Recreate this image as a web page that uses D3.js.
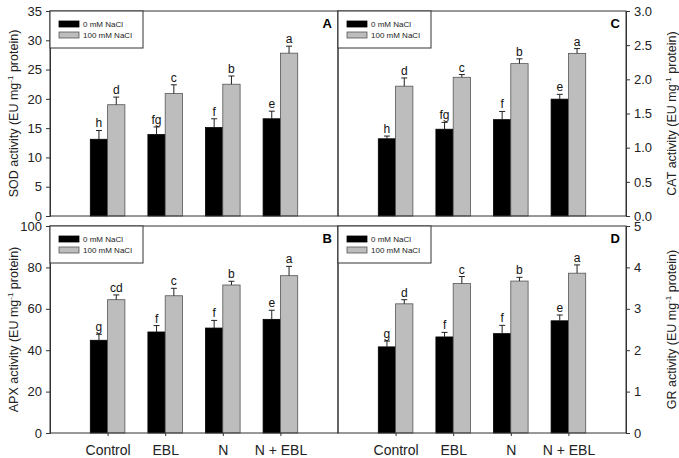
<!DOCTYPE html>
<html>
<head>
<meta charset="utf-8">
<script src="https://cdn.jsdelivr.net/npm/d3@7"></script>
<style>
  body { margin: 0; background: #fff; }
  svg { display: block; font-family: Arial, "Liberation Sans", sans-serif; }
</style>
</head>
<body>
<svg id="chart" width="679" height="458"></svg>
<script>
// DATA
var categories = ['Control', 'EBL', 'N', 'N + EBL'];
var seriesNames = ['0 mM NaCl', '100 mM NaCl'];

// A: SOD
var sod0 = [13.1, 13.9, 15.1, 16.6];
var sod0Err = [1.5, 1.3, 1.5, 1.3];
var sod100 = [19.0, 20.9, 22.5, 27.8];
var sod100Err = [1.3, 1.5, 1.4, 1.2];
var sodLetters0 = ['h', 'fg', 'f', 'e'];
var sodLetters100 = ['d', 'c', 'b', 'a'];

// B: APX
var apx0 = [44.8, 48.8, 50.7, 54.9];
var apx0Err = [2.9, 3.1, 3.7, 4.4];
var apx100 = [64.4, 66.3, 71.5, 76.0];
var apx100Err = [2.3, 3.6, 1.8, 4.5];
var apxLetters0 = ['g', 'f', 'f', 'e'];
var apxLetters100 = ['cd', 'c', 'b', 'a'];

// C: CAT
var cat0 = [1.13, 1.27, 1.41, 1.71];
var cat0Err = [0.04, 0.10, 0.12, 0.07];
var cat100 = [1.90, 2.03, 2.23, 2.38];
var cat100Err = [0.12, 0.04, 0.07, 0.07];
var catLetters0 = ['h', 'fg', 'f', 'e'];
var catLetters100 = ['d', 'c', 'b', 'a'];

// D: GR
var gr0 = [2.08, 2.32, 2.40, 2.71];
var gr0Err = [0.14, 0.11, 0.20, 0.14];
var gr100 = [3.12, 3.61, 3.67, 3.86];
var gr100Err = [0.10, 0.17, 0.09, 0.20];
var grLetters0 = ['g', 'f', 'f', 'e'];
var grLetters100 = ['d', 'c', 'b', 'a'];

// panel setup built from the arrays above
var panels = [
  { id: 'A', enzyme: 'SOD', side: 'left', x0: 50, x1: 338, y0: 11, y1: 216, max: 35, step: 5, fmt: 'd',
    values: [sod0, sod100], errs: [sod0Err, sod100Err], letters: [sodLetters0, sodLetters100], labels: false },
  { id: 'C', enzyme: 'CAT', side: 'right', x0: 338, x1: 626, y0: 11, y1: 216, max: 3, step: 0.5, fmt: '.1f',
    values: [cat0, cat100], errs: [cat0Err, cat100Err], letters: [catLetters0, catLetters100], labels: false },
  { id: 'B', enzyme: 'APX', side: 'left', x0: 50, x1: 338, y0: 226, y1: 433, max: 100, step: 20, fmt: 'd',
    values: [apx0, apx100], errs: [apx0Err, apx100Err], letters: [apxLetters0, apxLetters100], labels: true },
  { id: 'D', enzyme: 'GR', side: 'right', x0: 338, x1: 626, y0: 226, y1: 433, max: 5, step: 1, fmt: 'd',
    values: [gr0, gr100], errs: [gr0Err, gr100Err], letters: [grLetters0, grLetters100], labels: true }
];

var barFills = ['#000000', '#bdbdbd'];
var barStrokes = ['#000000', '#555555'];
var barWidth = 17.3;
var lineColor = '#333';

var svg = d3.select('#chart');

panels.forEach(function (p) {
  var g = svg.append('g').attr('class', 'panel panel-' + p.id);

  var x = d3.scalePoint()
    .domain(categories)
    .range([p.x0, p.x1])
    .padding(1);

  var y = d3.scaleLinear()
    .domain([0, p.max])
    .range([p.y1, p.y0]);

  var ticks = d3.range(0, p.max + p.step / 2, p.step);

  /**
   * Bars, error bars and letters
   */
  p.values.forEach(function (vals, s) {
    var offset = s === 0 ? -barWidth : 0;
    var bars = g.append('g').attr('class', 'series-' + s)
      .selectAll('g.bar')
      .data(vals.map(function (v, i) {
        return { cat: categories[i], value: v, err: p.errs[s][i], letter: p.letters[s][i] };
      }))
      .enter()
      .append('g')
      .attr('class', 'bar');

    bars.append('rect')
      .attr('x', function (d) { return x(d.cat) + offset; })
      .attr('y', function (d) { return y(d.value); })
      .attr('width', barWidth)
      .attr('height', function (d) { return y(0) - y(d.value); })
      .attr('fill', barFills[s])
      .attr('stroke', barStrokes[s])
      .attr('stroke-width', 0.8);

    // error bar: upward only, small cap
    bars.append('line')
      .attr('x1', function (d) { return x(d.cat) + offset + barWidth / 2; })
      .attr('x2', function (d) { return x(d.cat) + offset + barWidth / 2; })
      .attr('y1', function (d) { return y(d.value); })
      .attr('y2', function (d) { return y(d.value + d.err); })
      .attr('stroke', '#222')
      .attr('stroke-width', 1);
    bars.append('line')
      .attr('x1', function (d) { return x(d.cat) + offset + barWidth / 2 - 3; })
      .attr('x2', function (d) { return x(d.cat) + offset + barWidth / 2 + 3; })
      .attr('y1', function (d) { return y(d.value + d.err); })
      .attr('y2', function (d) { return y(d.value + d.err); })
      .attr('stroke', '#222')
      .attr('stroke-width', 1);

    bars.append('text')
      .attr('x', function (d) { return x(d.cat) + offset + barWidth / 2; })
      .attr('y', function (d) { return y(d.value + d.err) - 3; })
      .attr('text-anchor', 'middle')
      .style('font-size', '12px')
      .attr('fill', '#111')
      .text(function (d) { return d.letter; });
  });

  /**
   * Frame
   */
  g.append('rect')
    .attr('x', p.x0)
    .attr('y', p.y0)
    .attr('width', p.x1 - p.x0)
    .attr('height', p.y1 - p.y0)
    .attr('fill', 'none')
    .attr('stroke', lineColor)
    .attr('stroke-width', 1);

  /**
   * Y axis
   */
  var yAxis = (p.side === 'left' ? d3.axisLeft(y) : d3.axisRight(y))
    .tickValues(ticks)
    .tickFormat(d3.format(p.fmt))
    .tickSize(4)
    .tickPadding(4);

  var yAxisG = g.append('g')
    .attr('transform', 'translate(' + (p.side === 'left' ? p.x0 : p.x1) + ',0)')
    .call(yAxis);
  yAxisG.select('.domain').attr('stroke', lineColor);
  yAxisG.selectAll('.tick line').attr('stroke', lineColor);
  yAxisG.selectAll('.tick text')
    .attr('fill', '#222')
    .style('font-size', '13px')
    .style('font-family', 'Arial, "Liberation Sans", sans-serif');

  // axis title with superscript
  var titleX = p.side === 'left' ? 18 : 676;
  var title = g.append('text')
    .attr('transform', 'translate(' + titleX + ',' + ((p.y0 + p.y1) / 2) + ') rotate(-90)')
    .attr('text-anchor', 'middle')
    .attr('fill', '#222')
    .style('font-size', '12.5px');
  title.append('tspan').text(p.enzyme + ' activity (EU mg');
  title.append('tspan').attr('dy', -5).style('font-size', '8px').text('-1');
  title.append('tspan').attr('dy', 5).text(' protein)');

  /**
   * X axis (ticks only on bottom panels)
   */
  if (p.labels) {
    var xAxis = d3.axisBottom(x)
      .tickSize(3)
      .tickPadding(9);
    var xAxisG = g.append('g')
      .attr('transform', 'translate(0,' + p.y1 + ')')
      .call(xAxis);
    xAxisG.select('.domain').remove();
    xAxisG.selectAll('.tick line').attr('stroke', lineColor);
    xAxisG.selectAll('.tick text')
      .attr('fill', '#222')
      .style('font-size', '14px')
      .style('font-family', 'Arial, "Liberation Sans", sans-serif');
  }

  /**
   * Panel letter
   */
  g.append('text')
    .attr('x', p.x1 - 6)
    .attr('y', p.y0 + 17)
    .attr('text-anchor', 'end')
    .style('font-size', '13px')
    .style('font-weight', 'bold')
    .text(p.id);

  /**
   * Legend
   */
  var legend = g.append('g')
    .attr('transform', 'translate(' + p.x0 + ',' + p.y0 + ')');
  legend.append('rect')
    .attr('width', 93)
    .attr('height', 37)
    .attr('fill', '#fff')
    .attr('stroke', lineColor)
    .attr('stroke-width', 1);
  seriesNames.forEach(function (name, s) {
    legend.append('rect')
      .attr('x', 9)
      .attr('y', 10 + s * 11)
      .attr('width', 20)
      .attr('height', 6)
      .attr('fill', barFills[s])
      .attr('stroke', barStrokes[s])
      .attr('stroke-width', 0.8);
    legend.append('text')
      .attr('x', 33)
      .attr('y', 16 + s * 11)
      .attr('fill', '#222')
      .style('font-size', '8px')
      .text(name);
  });
});
</script>
</body>
</html>
